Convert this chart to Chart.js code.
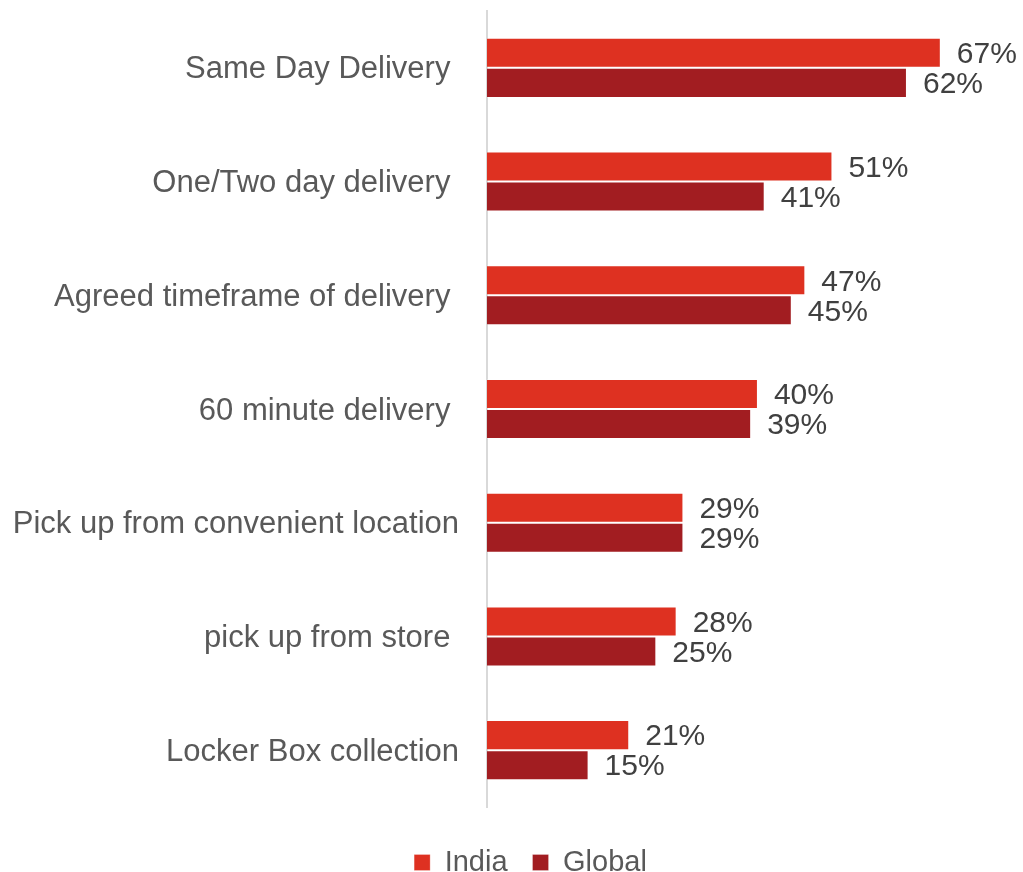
<!DOCTYPE html>
<html>
<head>
<meta charset="utf-8">
<script src="https://cdn.jsdelivr.net/npm/chart.js@4/dist/chart.umd.min.js"></script>
<style>
  html, body { margin: 0; padding: 0; background: #fff; }
  #wrap { width: 1023px; height: 872px; }
</style>
</head>
<body>
<div id="wrap"><canvas id="deliveryChart" width="1023" height="872"></canvas></div>
<script>
// Delivery option preference, India vs Global (percent of respondents)
const categories = [
  'Same Day Delivery ',
  'One/Two day delivery ',
  'Agreed timeframe of delivery ',
  '60 minute delivery ',
  'Pick up from convenient location',
  'pick up from store ',
  'Locker Box collection'
];
const indiaValues  = [67, 51, 47, 40, 29, 28, 21];
const globalValues = [62, 41, 45, 39, 29, 25, 15];
const seriesNames  = ['India', 'Global'];

const COLORS = {
  india: '#de3121',
  global: '#a21d21',
  axis: '#d9d9d9',
  label: '#595959',
  value: '#404040'
};
const FONT = '"Liberation Sans", Arial, sans-serif';

// value text to the right of each bar, placed from the bar element itself
const barValueLabels = {
  id: 'barValueLabels',
  afterDatasetsDraw(chart) {
    const { ctx } = chart;
    ctx.save();
    ctx.font = `30px ${FONT}`;
    ctx.fillStyle = COLORS.value;
    ctx.textAlign = 'left';
    ctx.textBaseline = 'middle';
    chart.data.datasets.forEach((ds, i) => {
      chart.getDatasetMeta(i).data.forEach((bar, j) => {
        ctx.fillText(ds.data[j] + '%', bar.x + 16, bar.y + 2);
      });
    });
    ctx.restore();
  }
};

// push the legend a little right and down from where the layout puts it
const legendNudge = {
  id: 'legendNudge',
  afterLayout(chart) {
    const lg = chart.legend;
    if (!lg) return;
    lg.left += 33; lg.right += 33;
    lg.top += 16; lg.bottom += 16;
  }
};

new Chart(document.getElementById('deliveryChart'), {
  type: 'bar',
  data: {
    labels: categories,
    datasets: [
      {
        label: seriesNames[0],
        data: indiaValues,
        backgroundColor: COLORS.india,
        borderColor: 'rgba(255,255,255,0.25)',
        borderWidth: 1,
        categoryPercentage: 0.528,
        barPercentage: 1.0
      },
      {
        label: seriesNames[1],
        data: globalValues,
        backgroundColor: COLORS.global,
        borderColor: 'rgba(255,255,255,0.25)',
        borderWidth: 1,
        categoryPercentage: 0.528,
        barPercentage: 1.0
      }
    ]
  },
  options: {
    indexAxis: 'y',
    responsive: false,
    animation: false,
    layout: { padding: { left: 0, right: 28, top: 11, bottom: 1 } },
    plugins: {
      legend: {
        position: 'bottom',
        labels: {
          font: { family: FONT, size: 29 },
          color: COLORS.label,
          boxWidth: 16,
          boxHeight: 16,
          padding: 25
        }
      },
      tooltip: { enabled: false }
    },
    scales: {
      x: {
        display: false,
        min: 0,
        max: 75
      },
      y: {
        grid: { display: false, drawTicks: false },
        border: { display: true, color: COLORS.axis, width: 2 },
        ticks: {
          font: { family: FONT, size: 31 },
          color: COLORS.label,
          padding: 28,
          labelOffset: 2,
          autoSkip: false
        },
        afterFit(scale) {
          scale.width = 487;
          // labels sit well inside their bands, so no extra room above/below
          scale.paddingTop = 0;
          scale.paddingBottom = 0;
        }
      }
    }
  },
  plugins: [barValueLabels, legendNudge]
});
</script>
</body>
</html>
